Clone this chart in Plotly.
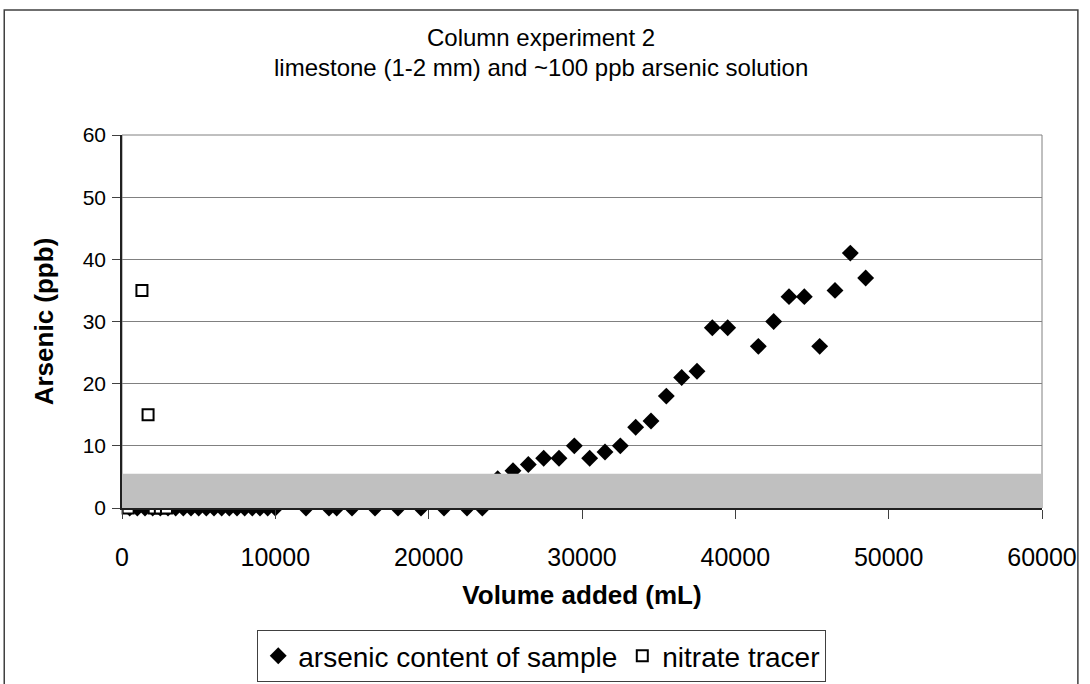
import plotly.graph_objects as go

# ---------------- datos ----------------
arsenic_ml = [500, 1000, 1500, 2000, 2500, 3000, 3500, 4000, 4500, 5000, 5500, 6000,
              6500, 7000, 7500, 8000, 8500, 9000, 9500, 10000,
              12000, 13500, 14000, 15000, 16500, 18000, 19500, 21000, 22500, 23500,
              24500, 25500, 26500, 27500, 28500, 29500, 30500, 31500, 32500, 33500,
              34500, 35500, 36500, 37500, 38500, 39500, 41500, 42500, 43500, 44500,
              45500, 46500, 47500, 48500]
arsenic_ppb = [0] * 20 + [0] * 10 + [4.7, 6, 7, 8, 8, 10, 8, 9, 10, 13,
                                      14, 18, 21, 22, 29, 29, 26, 30, 34, 34,
                                      26, 35, 41, 37]

nitrate_ml = [400, 1300, 1700, 2100, 2500, 2900]
nitrate_ppb = [0, 35, 15, 0, 0, 0]

banda_ppb = [0, 5.5]          # franja gris (limite de deteccion)
x_ticks = [0, 10000, 20000, 30000, 40000, 50000, 60000]
y_ticks = [0, 10, 20, 30, 40, 50, 60]

FUENTE = "Liberation Sans, Arial, sans-serif"

fig = go.Figure()

fig.add_trace(go.Scatter(x=arsenic_ml, y=arsenic_ppb, mode="markers",
                         name="arsenic content of sample", cliponaxis=False,
                         marker=dict(symbol="diamond", size=13, color="black")))
fig.add_trace(go.Scatter(x=nitrate_ml, y=nitrate_ppb, mode="markers",
                         name="nitrate tracer", cliponaxis=False,
                         marker=dict(symbol="square", size=11, color="white",
                                     line=dict(color="black", width=2))))

# franja gris encima de los marcadores
fig.add_shape(type="rect", xref="x domain", yref="y", x0=0, x1=1,
              y0=banda_ppb[0], y1=banda_ppb[1], fillcolor="#c0c0c0",
              line=dict(width=0), layer="above")
# borde del area de trazado
fig.add_shape(type="rect", xref="x domain", yref="y domain", x0=0, x1=1, y0=0, y1=1,
              line=dict(color="#808080", width=1), layer="below")
# marco exterior del grafico
fig.add_shape(type="rect", xref="paper", yref="paper", x0=-0.128, x1=1.039,
              y0=-0.6, y1=1.335, line=dict(color="#404040", width=1.5))

# titulo en dos lineas
fig.add_annotation(text="Column experiment 2", xref="paper", yref="paper",
                   x=(541 - 122) / 920, y=(508 - 37) / 373, yanchor="middle",
                   showarrow=False, font=dict(family=FUENTE, size=24, color="black"))
fig.add_annotation(text="limestone (1-2 mm) and ~100 ppb arsenic solution",
                   xref="paper", yref="paper",
                   x=(541 - 122) / 920, y=(508 - 67) / 373, yanchor="middle",
                   showarrow=False, font=dict(family=FUENTE, size=24, color="black"))

fig.update_layout(
    width=1090, height=684,
    margin=dict(l=122, r=48, t=135, b=176, autoexpand=False),
    paper_bgcolor="white", plot_bgcolor="white",
    font=dict(family=FUENTE, color="black"),
    showlegend=True,
    legend=dict(orientation="h", xref="container", yref="container",
                x=0.497, xanchor="center", y=1 - 630 / 684, yanchor="top",
                bordercolor="#404040", borderwidth=1,
                font=dict(family=FUENTE, size=28, color="black"),
                itemwidth=30),
    xaxis=dict(range=[0, 60000], tickvals=x_ticks,
               ticktext=[str(v) for v in x_ticks],
               showgrid=False, zeroline=False, showline=True,
               linecolor="#202020", linewidth=1.5,
               ticks="outside", ticklen=9, tickcolor="#404040",
               tickfont=dict(size=25), ticklabelstandoff=17,
               title=dict(text="<b>Volume added (mL)</b>", font=dict(size=26),
                          standoff=16)),
    yaxis=dict(range=[0, 60], tickvals=y_ticks,
               showgrid=True, gridcolor="#808080", gridwidth=1,
               zeroline=False, showline=True,
               linecolor="#202020", linewidth=1.5,
               ticks="outside", ticklen=8, tickcolor="#404040",
               tickfont=dict(size=21), ticklabelstandoff=2,
               title=dict(text="<b>Arsenic (ppb)</b>", font=dict(size=26),
                          standoff=22)),
)

# quitar el margen del body para que el grafico empiece en (0, 0)
fig.write_html("out.html", config={"displayModeBar": False},
               post_script="document.body.style.margin='0';")
